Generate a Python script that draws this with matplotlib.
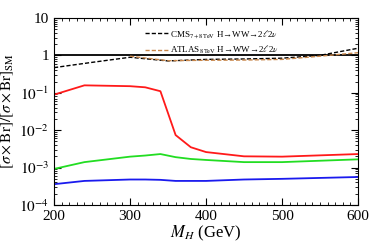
import matplotlib
matplotlib.use("Agg")
import matplotlib.pyplot as plt
from matplotlib.ticker import LogLocator, NullFormatter, MultipleLocator

plt.rcParams['font.family'] = ['Liberation Serif', 'DejaVu Serif']
plt.rcParams['mathtext.fontset'] = 'stix'

# DATA
mh = [200, 240, 300, 320, 340, 360, 380, 400, 450, 500, 600]
red = [0.089, 0.158, 0.15, 0.14, 0.11, 0.0074, 0.0035, 0.0026, 0.0020, 0.00196, 0.0023]
green = [0.00092, 0.0014, 0.00196, 0.0021, 0.0023, 0.0019, 0.0017, 0.0016, 0.0014, 0.0014, 0.00166]
blue = [0.00036, 0.00044, 0.00048, 0.00048, 0.00047, 0.00044, 0.00044, 0.00044, 0.00048, 0.0005, 0.00056]

cms_mh = [200, 250, 300, 350, 400, 450, 500, 550, 600]
cms = [0.47, 0.65, 0.89, 0.71, 0.78, 0.80, 0.84, 1.0, 1.55]
atlas_mh = [300, 350, 400, 450, 500, 550, 600]
atlas = [0.95, 0.72, 0.74, 0.75, 0.78, 0.95, 1.18]

fig = plt.figure(figsize=(3.71, 2.46), dpi=100)
ax = fig.add_axes([0.1456, 0.1667, 0.8194, 0.7603])

ax.axhline(1, color='black', lw=1.3)
ax.plot(cms_mh, cms, '--', color='black', lw=1.0, dashes=(3, 1.5),
        label=r'CMS$_{7+8\,\mathrm{TeV}}$ H→WW→2$\ell$2$\nu$')
ax.plot(atlas_mh, atlas, '--', color='#c8864a', lw=1.0, dashes=(3, 1.5),
        label=r'ATLAS$_{8\,\mathrm{TeV}}$ H→WW→2$\ell$2$\nu$')
ax.plot(mh, red, color='#ff1a1a', lw=1.3)
ax.plot(mh, green, color='#22dd22', lw=1.3)
ax.plot(mh, blue, color='#1a1aee', lw=1.3)

ax.set_yscale('log')
ax.set_xlim(200, 600)
ax.set_ylim(1e-4, 10)
ax.set_yticks([1e-4, 1e-3, 1e-2, 1e-1, 1, 10])
ax.set_yticklabels([r'$10^{-4}$', r'$10^{-3}$', r'$10^{-2}$', r'$10^{-1}$', '1', '10'])
ax.yaxis.set_minor_locator(LogLocator(base=10, subs=range(2, 10)))
ax.yaxis.set_minor_formatter(NullFormatter())
ax.xaxis.set_major_locator(MultipleLocator(100))
ax.xaxis.set_minor_locator(MultipleLocator(10))
ax.tick_params(which='both', direction='in', top=True, right=True, labelsize=11)
ax.tick_params(which='major', length=5)
ax.tick_params(which='minor', length=2.5)

ax.set_xlabel(r'$M_H$ (GeV)', fontsize=12, labelpad=1)
ax.set_ylabel(r'$[\sigma\times\mathrm{Br}]/[\sigma\times\mathrm{Br}]_{\mathrm{SM}}$', fontsize=11, labelpad=2)

ax.legend(loc='upper center', bbox_to_anchor=(0.52, 0.99), frameon=False, fontsize=6.5,
          handlelength=2.6, handletextpad=0.2, labelspacing=0.45)

plt.savefig('out.png', dpi=100)
